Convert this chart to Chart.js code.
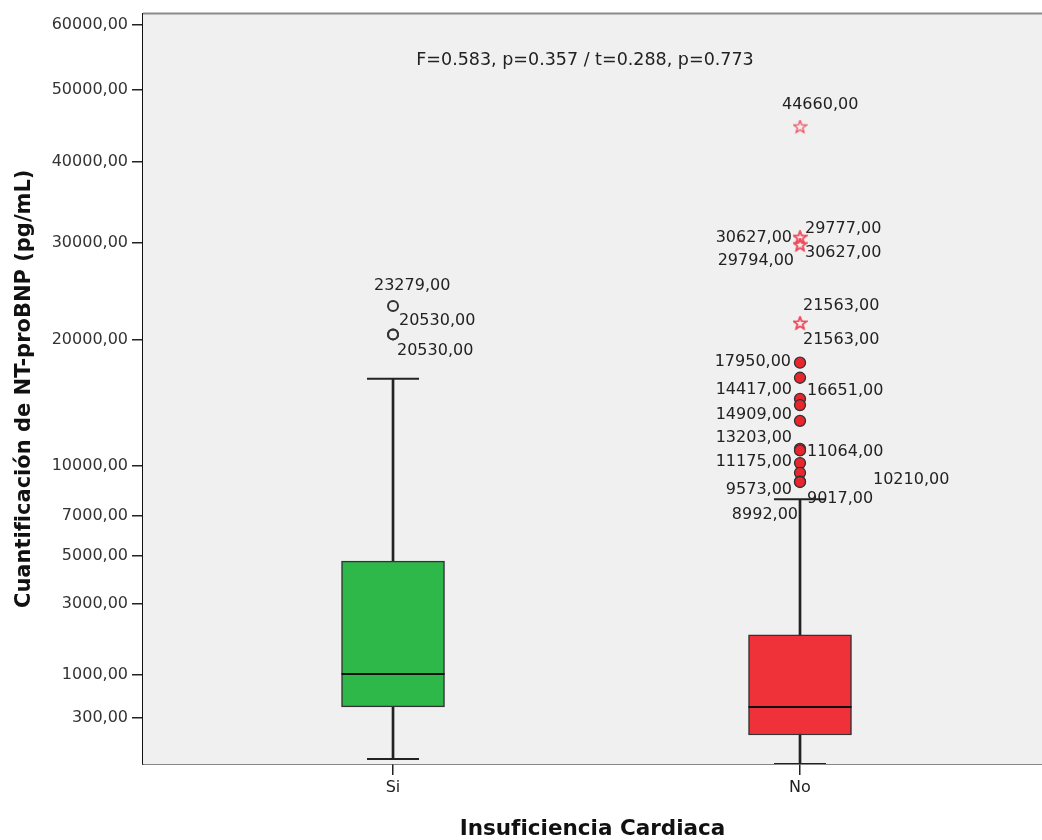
<!DOCTYPE html>
<html lang="es">
<head>
  <meta charset="UTF-8">
  <title>NT-proBNP por Insuficiencia Cardiaca</title>
  <script src="https://cdn.jsdelivr.net/npm/chart.js"></script>
  <style>
    body { margin: 0; background: #fff; overflow: hidden; }
    #wrap { width: 1042px; height: 840px; position: relative; }
  </style>
</head>
<body>
<div id="wrap"><canvas id="myChart"></canvas></div>
<script>
// ---- data ----
const categories = ['Si', 'No'];
const boxMin    = [15, 5];
const boxQ1     = [440, 138];
const boxMedian = [1010, 438];
const boxQ3     = [4740, 1990];
const boxMax    = [16560, 7950];

const siOutliers = [23279, 20530, 20530];
const noExtremes = [44660, 30627, 30627, 29794, 29777, 21563, 21563];
const noOutliers = [17950, 16651, 14909, 14417, 13203, 11175, 11064, 10210, 9573, 9017, 8992];

const yTicks = [300, 1000, 3000, 5000, 7000, 10000, 20000, 30000, 40000, 50000, 60000];
const statsText = 'F=0.583, p=0.357 / t=0.288, p=0.773';

// label placement next to each point: [dx, dy, align]
const siLabelPos = [[-19, -20, 'left'], [6, -14, 'left'], [4, 16, 'left']];
const noExtremeLabelPos = [[-18, -22, 'left'], [-8, 0, 'right'], [5, 15, 'left'], [-6, 16, 'right'],
  [5, -16, 'left'], [3, -18, 'left'], [3, 16, 'left']];
const noOutlierLabelPos = [[-9, -1, 'right'], [7, 13, 'left'], [-8, 16, 'right'], [-8, -15, 'right'],
  [-8, 17, 'right'], [-8, 13, 'right'], [7, 1, 'left'], [73, 17, 'left'], [-8, 17, 'right'],
  [7, 17, 'left'], [-2, 33, 'right']];

const fmt = v => v.toFixed(2).replace('.', ',');

// square-root value axis (as in the SPSS plot)
class SqrtScale extends Chart.LinearScale {
  static id = 'sqrt';
  static defaults = Chart.LinearScale.defaults;
  getPixelForValue(value) {
    const lo = Math.sqrt(this.min), hi = Math.sqrt(this.max);
    return this.getPixelForDecimal((Math.sqrt(Math.max(value, 0)) - lo) / (hi - lo));
  }
  getValueForPixel(pixel) {
    const lo = Math.sqrt(this.min), hi = Math.sqrt(this.max);
    const s = lo + this.getDecimalForPixel(pixel) * (hi - lo);
    return s * s;
  }
}
Chart.register(SqrtScale);

function makeStar(color) {
  const c = document.createElement('canvas');
  c.width = c.height = 15;
  const g = c.getContext('2d');
  g.strokeStyle = color;
  g.lineWidth = 1.3;
  g.beginPath();
  for (let i = 0; i < 10; i++) {
    const r = i % 2 ? 2.8 : 6.6;
    const a = -Math.PI / 2 + i * Math.PI / 5;
    const px = 7.5 + r * Math.cos(a), py = 7.5 + r * Math.sin(a);
    if (i) g.lineTo(px, py); else g.moveTo(px, py);
  }
  g.closePath();
  g.stroke();
  return c;
}
const star = makeStar('#f2475a');

const labelFont = '16px "DejaVu Sans"';

const plotDeco = {
  id: 'plotDeco',
  beforeDatasetsDraw(chart) {
    const { ctx, chartArea: a } = chart;
    ctx.save();
    ctx.fillStyle = '#f0f0f0';
    ctx.fillRect(a.left, a.top, a.right - a.left, a.bottom - a.top);
    ctx.strokeStyle = '#8a8a8a';
    ctx.lineWidth = 2;
    ctx.beginPath();
    ctx.moveTo(a.left, a.top);
    ctx.lineTo(a.right, a.top);
    ctx.stroke();
    ctx.restore();
  },
  afterDatasetsDraw(chart) {
    const { ctx, scales: { x, y } } = chart;
    ctx.save();
    ctx.font = labelFont;
    ctx.fillStyle = '#222';
    ctx.textBaseline = 'middle';
    const put = (cat, vals, pos) => vals.forEach((v, i) => {
      const [dx, dy, al] = pos[i];
      ctx.textAlign = al;
      ctx.fillText(fmt(v), x.getPixelForValue(cat) + dx, y.getPixelForValue(v) + dy);
    });
    put(1, siOutliers, siLabelPos);
    put(2, noExtremes, noExtremeLabelPos);
    put(2, noOutliers, noOutlierLabelPos);
    ctx.font = '17.5px "DejaVu Sans"';
    ctx.textAlign = 'center';
    ctx.fillText(statsText, 585, 60);
    ctx.restore();
  }
};

const xs = categories.map((c, i) => i + 1);
const ctx = document.getElementById('myChart').getContext('2d');

new Chart(ctx, {
  type: 'bar',
  data: {
    datasets: [
      {
        label: 'outliers Si', type: 'scatter', order: 0,
        data: siOutliers.map(v => ({ x: 1, y: v })),
        pointStyle: 'circle', pointRadius: 5, pointBorderWidth: 2,
        pointBackgroundColor: 'rgba(0,0,0,0)', pointBorderColor: '#333'
      },
      {
        label: 'outliers No', type: 'scatter', order: 0,
        data: noOutliers.map(v => ({ x: 2, y: v })),
        pointStyle: 'circle', pointRadius: 5.5, pointBorderWidth: 1.3,
        pointBackgroundColor: '#e8262e', pointBorderColor: '#333'
      },
      {
        label: 'extremos No', type: 'scatter', order: 0,
        data: noExtremes.map(v => ({ x: 2, y: v })),
        pointStyle: star, pointRadius: 7
      },
      {
        label: 'mediana', type: 'scatter', order: 1,
        data: xs.map((x, i) => ({ x, y: boxMedian[i] })),
        pointStyle: 'line', pointRadius: 51.5, pointBorderWidth: 2, pointBorderColor: '#111'
      },
      {
        label: 'bigotes', type: 'scatter', order: 1,
        data: xs.flatMap((x, i) => [{ x, y: boxMin[i] }, { x, y: boxMax[i] }]),
        pointStyle: 'line', pointRadius: 26, pointBorderWidth: 2, pointBorderColor: '#222'
      },
      {
        label: 'caja', order: 2, grouped: false,
        data: xs.map((x, i) => ({ x, y: [boxQ1[i], boxQ3[i]] })),
        backgroundColor: ['#2fb84a', '#ef323a'],
        borderColor: '#333', borderWidth: 1.5, borderSkipped: false,
        barThickness: 103
      },
      {
        label: 'rango', order: 3, grouped: false,
        data: xs.map((x, i) => ({ x, y: [boxMin[i], boxMax[i]] })),
        backgroundColor: '#222', borderWidth: 0,
        barThickness: 2
      }
    ]
  },
  options: {
    responsive: true,
    maintainAspectRatio: false,
    animation: false,
    events: [],
    layout: { autoPadding: false, padding: { top: 12, right: 0, left: 0, bottom: 0 } },
    plugins: { legend: { display: false }, tooltip: { enabled: false } },
    scales: {
      x: {
        type: 'linear',
        min: 0.3857, max: 2.5946,
        offset: false,
        afterBuildTicks: s => { s.ticks = xs.map(v => ({ value: v })); },
        afterFit: s => { s.height = 76; },
        ticks: {
          callback: v => categories[Math.round(v) - 1],
          font: { family: 'DejaVu Sans', size: 16 }, color: '#222', padding: 3, maxRotation: 0
        },
        grid: { offset: false, drawOnChartArea: false, drawTicks: true, tickLength: 11, color: '#222', lineWidth: 1.5 },
        border: { display: true, color: '#111', width: 1.5 },
        title: {
          display: true, text: 'Insuficiencia Cardiaca', color: '#111',
          font: { family: 'DejaVu Sans', size: 21.5, weight: 'bold', lineHeight: 1 },
          padding: { top: 0, bottom: 0 }
        }
      },
      y: {
        type: 'sqrt',
        min: 5, max: 61800,
        afterBuildTicks: s => { s.ticks = yTicks.map(v => ({ value: v })); },
        afterFit: s => { s.width = 143; },
        ticks: {
          callback: v => fmt(v),
          font: { family: 'DejaVu Sans', size: 16 }, color: '#333', padding: 4
        },
        grid: { drawOnChartArea: false, drawTicks: true, tickLength: 11, color: '#222', lineWidth: 1.5 },
        border: { display: true, color: '#111', width: 1.5 },
        title: {
          display: true, text: 'Cuantificación de NT-proBNP (pg/mL)', color: '#111',
          font: { family: 'DejaVu Sans', size: 21, weight: 'bold', lineHeight: 1 },
          padding: { top: 14, bottom: 0 }
        }
      }
    }
  },
  plugins: [plotDeco]
});
</script>
</body>
</html>
